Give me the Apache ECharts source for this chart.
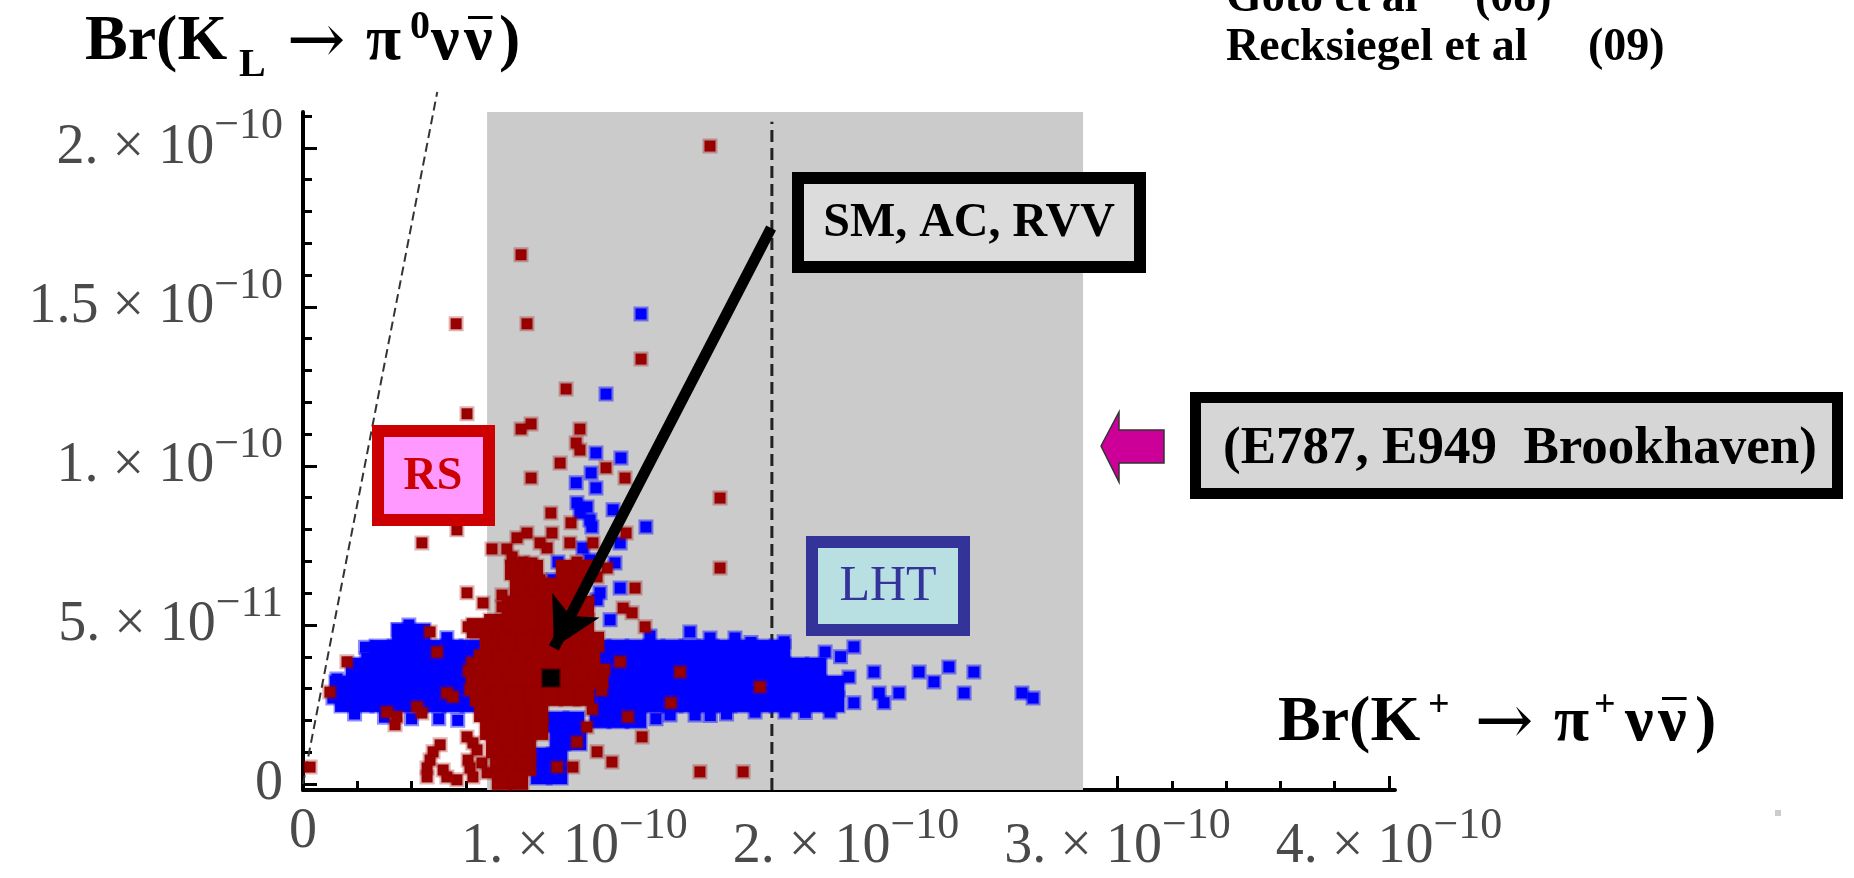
<!DOCTYPE html>
<html><head><meta charset="utf-8">
<script src="https://cdn.jsdelivr.net/npm/echarts@6/dist/echarts.min.js"></script>
<style>html,body{margin:0;padding:0;background:#fff}#c{width:1854px;height:878px}</style>
</head><body><div id="c"></div>
<script>
// Units: x values in 1e-10, y values in 1e-11
const xMajorTicks = [0, 1, 2, 3, 4];
const xMinorTicks = [0.2,0.4,0.6,0.8,1.2,1.4,1.6,1.8,2.2,2.4,2.6,2.8,3.2,3.4,3.6,3.8];
const xTickLabels = ['0', '1. × 10', '2. × 10', '3. × 10', '4. × 10'];
const xTickExp    = ['', '−10', '−10', '−10', '−10'];
const yMajorTicks = [0, 5, 10, 15, 20];
const yMinorTicks = [1,2,3,4,6,7,8,9,11,12,13,14,16,17,18,19,21];
const yTickLabels = ['0', '5. × 10', '1. × 10', '1.5 × 10', '2. × 10'];
const yTickExp    = ['', '−11', '−10', '−10', '−10'];

// shaded experimental band (E787/E949) in x
const bandX = [0.678, 2.873];
// central value line
const centralLine = [[1.727, -0.19], [1.727, 20.82]];
// Grossman-Nir bound line
const gnLine = [[0, 0], [0.4945, 21.76]];
// Standard Model point
const smPoint = [[0.913, 3.33]];
// arrow from SM label to SM point
const smArrow = [[1.724, 17.48], [0.924, 4.28]];

// LHT (blue) points
const blueDense = [
  [0.365,4.72],[0.431,4.72],
  [0.284,4.21],[0.350,4.21],[0.416,4.21],[0.483,4.21],[0.549,4.21],[0.615,4.21],
  [0.195,3.65],[0.262,3.65],[0.328,3.65],[0.394,3.65],[0.460,3.65],[0.527,3.65],[0.593,3.65],[0.659,3.65],
  [0.136,3.08],[0.203,3.08],[0.269,3.08],[0.335,3.08],[0.401,3.08],[0.468,3.08],[0.534,3.08],[0.600,3.08],[0.667,3.08],
  [0.155,2.58],[0.221,2.58],[0.287,2.58],[0.354,2.58],[0.420,2.58],[0.486,2.58],[0.552,2.58],[0.619,2.58],[0.685,2.58],
  [1.094,4.21],[1.160,4.21],[1.227,4.21],[1.293,4.21],[1.359,4.21],[1.425,4.21],[1.492,4.21],[1.558,4.21],[1.624,4.21],[1.690,4.21],[1.757,4.21],
  [1.094,3.65],[1.160,3.65],[1.227,3.65],[1.293,3.65],[1.359,3.65],[1.425,3.65],[1.492,3.65],[1.558,3.65],[1.624,3.65],[1.690,3.65],[1.757,3.65],[1.823,3.65],[1.890,3.65],
  [1.094,3.08],[1.160,3.08],[1.227,3.08],[1.293,3.08],[1.359,3.08],[1.425,3.08],[1.492,3.08],[1.558,3.08],[1.624,3.08],[1.690,3.08],[1.757,3.08],[1.823,3.08],[1.890,3.08],[1.956,3.08],
  [1.094,2.58],[1.160,2.58],[1.227,2.58],[1.293,2.58],[1.359,2.58],[1.425,2.58],[1.492,2.58],[1.558,2.58],[1.624,2.58],[1.690,2.58],[1.757,2.58],[1.823,2.58],[1.890,2.58],[1.956,2.58],
  [1.094,2.08],[1.160,2.08],[1.227,2.08],
  [0.939,1.95],[0.998,1.95],[0.947,1.38],[1.006,1.38],[0.877,0.82],[0.936,0.82],[0.877,0.31],[0.936,0.31]
];
const blueSparse = [
  [1.245,14.78],[1.116,12.26],[1.079,10.41],[1.171,10.25],[1.061,9.78],[1.006,9.47],[1.079,9.31],
  [1.009,8.84],[1.046,8.71],[1.020,8.52],[1.057,8.30],[1.064,8.08],[1.142,8.62],[1.263,8.08],
  [1.168,7.58],[1.149,6.95],[0.939,6.98],[0.921,6.42],[1.168,6.16],[1.094,6.01],[1.031,7.42],
  [1.057,7.04],[1.083,5.79],[1.020,5.47],[1.131,5.16],[1.425,4.78],[1.772,4.47],[1.923,4.15],
  [2.029,4.31],[2.011,3.36],[2.103,3.52],[2.122,2.86],[2.140,2.55],[2.195,2.86],[2.029,2.55],
  [2.269,3.52],[2.324,3.21],[2.379,3.68],[2.471,3.52],[2.435,2.86],[2.648,2.86],[2.689,2.70],
  [0.390,5.00],[0.350,4.85],[0.440,4.80],[0.530,4.60],[0.545,4.30],
  [0.110,2.70],[0.125,3.30],[0.230,4.30],[0.235,3.95],[0.300,2.10],[0.500,2.05],[0.190,2.20],
  [0.400,2.05],[0.570,2.00],[1.300,2.05],[1.500,2.15],[1.650,4.45],[1.560,2.20],[1.980,4.00],
  [1.850,2.25],[1.278,4.65],[1.499,4.59],[1.591,4.59],[1.352,2.17],[1.444,2.17],[1.665,2.26],
  [1.775,2.26],[1.941,2.26]
];
// RS (red) points
const redDense = [
  [0.781,6.73],[0.847,6.73],[0.969,6.73],[1.035,6.73],
  [0.799,6.16],[0.866,6.16],[0.932,6.16],[0.998,6.16],
  [0.770,5.60],[0.836,5.60],[0.902,5.60],[0.969,5.60],[1.035,5.60],
  [0.640,4.90],[0.704,5.03],[0.770,5.03],[0.836,5.03],[0.902,5.03],[0.969,5.03],[1.035,5.03],
  [0.689,4.47],[0.755,4.47],[0.821,4.47],[0.888,4.47],[0.954,4.47],[1.020,4.47],[1.072,4.47],
  [0.667,3.90],[0.733,3.90],[0.799,3.90],[0.866,3.90],[0.932,3.90],[0.998,3.90],[1.057,3.90],
  [0.637,3.33],[0.704,3.33],[0.770,3.33],[0.836,3.33],[0.902,3.33],[0.969,3.33],[1.035,3.33],[1.087,3.33],
  [0.652,2.77],[0.718,2.77],[0.785,2.77],[0.851,2.77],[0.917,2.77],[0.983,2.77],[1.035,2.77],
  [0.667,2.26],[0.733,2.26],[0.799,2.26],[0.866,2.26],
  [0.689,1.70],[0.755,1.70],[0.821,1.70],[0.866,1.70],
  [0.711,1.13],[0.770,1.13],[0.821,1.13],
  [0.726,0.57],[0.785,0.57],[0.821,0.57],
  [0.733,0.13],[0.792,0.13]
];
const redSparse = [
  [1.499,20.06],[0.803,16.64],[0.564,14.47],[0.825,14.47],[1.245,13.36],[0.969,12.42],[0.604,11.64],
  [0.840,11.32],[0.803,11.16],[1.020,11.16],[1.006,10.72],[1.020,10.50],[0.947,10.09],[1.116,9.94],
  [0.840,9.62],[1.186,9.62],[1.536,8.99],[0.913,8.52],[0.987,8.21],[0.567,7.99],[1.190,7.89],
  [0.825,7.89],[0.788,7.74],[0.438,7.58],[0.696,7.39],[0.751,7.39],[0.770,7.14],[0.810,6.98],
  [0.843,6.95],[0.873,7.58],[0.899,7.42],[0.917,7.89],[0.983,7.58],[1.068,7.58],[1.120,6.79],
  [1.536,6.79],[1.223,6.16],[0.604,6.01],[0.733,5.94],[0.873,6.42],[0.910,6.19],[0.958,6.10],
  [1.009,6.98],[1.046,6.73],[1.083,6.51],[0.663,5.69],[0.733,5.57],[0.884,6.26],[1.179,5.53],
  [1.212,5.38],[1.260,4.94],[0.468,4.78],[0.608,4.94],[0.641,4.78],[0.678,4.59],[0.494,4.15],
  [0.162,3.84],[0.622,3.81],[0.530,2.86],[0.552,2.74],[1.168,3.84],[1.389,3.52],[1.683,3.05],
  [1.355,2.55],[0.099,2.89],[0.309,2.26],[0.346,2.11],[0.339,1.86],[0.420,2.42],[0.438,2.23],
  [1.197,2.11],[1.249,1.48],[1.009,1.32],[1.083,1.01],[1.138,0.69],[1.046,1.79],[0.604,1.48],
  [0.626,1.29],[0.641,1.07],[0.505,1.23],[0.479,1.01],[0.468,0.75],[0.457,0.50],[0.457,0.22],
  [0.516,0.44],[0.530,0.22],[0.567,0.13],[0.608,0.75],[0.615,0.50],[0.626,0.22],[0.659,0.66],
  [0.678,0.35],[0.994,0.53],[0.936,0.53],[1.462,0.38],[1.621,0.38],[0.026,0.53],
  [1.110,3.60],[1.100,2.95],[0.610,3.55],[0.615,2.95],[1.065,2.35]
];

const FONT = 'Liberation Serif';
const LBL = '#4a4a4a';
const rich = {
  m: {fontFamily: FONT, fontSize: 56, color: LBL, lineHeight: 56},
  s: {fontFamily: FONT, fontSize: 44, color: LBL, lineHeight: 14, height: 14, verticalAlign: 'top'},
  z: {fontFamily: FONT, fontSize: 56, color: LBL, lineHeight: 26, height: 26, verticalAlign: 'top'}
};
function fmt(labels, exps, ticks) {
  return function (v) {
    const i = ticks.findIndex(t => Math.abs(t - v) < 1e-9);
    if (i < 0) return '';
    if (!exps[i]) return '{z|' + labels[i] + '}';
    return '{m|' + labels[i] + '}{s|' + exps[i] + '}';
  };
}
const X_MIN = 0, X_MAX = 4.022, Y_MIN = -0.19, Y_MAX = 21.13;
const axisCommon = {type: 'value', splitLine: {show: false}, axisPointer: {show: false}};

const chart = echarts.init(document.getElementById('c'), null, {renderer: 'canvas'});

// text layout helper
const meas = document.createElement('canvas').getContext('2d');
function fnt(size, weight, fam) { return weight + ' ' + size + 'px "' + (fam || FONT) + '"'; }
function tw(t, f) { meas.font = f; return meas.measureText(t).width; }
function run(parts, base) {
  const out = [];
  parts.forEach(p => {
    const f = fnt(p.size, p.w || 'bold', p.ff);
    const y = base + (p.dy || 0);
    const w = tw(p.t, f);
    const ymid = (p.raise != null) ? base - p.raise : y - 0.305 * p.size;
    out.push({type: 'text', x: p.x, y: ymid, z: 120,
      style: {text: p.t, font: f, fill: '#000',
        align: p.align || 'left', verticalAlign: 'middle', textAlign: p.align || 'left', textVerticalAlign: 'middle'}});
    if (p.over) {
      out.push({type: 'rect', z: 120, shape: {x: p.x + 4, y: base - 46, width: w - 4, height: 3}, style: {fill: '#000'}});
    }
  });
  return out;
}
function box(x, y, w, h, b, border, fill, text, font, color, tx, ty) {
  return [
    {type: 'rect', z: 100, shape: {x: x, y: y, width: w, height: h}, style: {fill: border}},
    {type: 'rect', z: 101, shape: {x: x + b, y: y + b, width: w - 2 * b, height: h - 2 * b}, style: {fill: fill}},
    {type: 'text', z: 102, x: tx, y: ty, style: {text: text, font: font, fill: color,
      align: 'center', verticalAlign: 'middle', textAlign: 'center', textVerticalAlign: 'middle'}}
  ];
}
const ARROW_FF = 'DejaVu Serif';
const graphics = [].concat(
  run([{t: 'Br(K', x: 85, size: 64}, {t: 'L', x: 239, size: 40, dy: 16},
       {t: '→', x: 316, align: 'center', size: 70, ff: ARROW_FF, w: 'normal', raise: 17},
       {t: 'π', x: 366, size: 64},
       {t: '0', x: 410, size: 40, dy: -22}, {t: 'ν', x: 431, size: 64}, {t: 'ν', x: 464, size: 64, over: true},
       {t: ')', x: 499, size: 64}], 62),
  run([{t: 'Br(K', x: 1278, size: 64}, {t: '+', x: 1428, size: 38, dy: -25},
       {t: '→', x: 1504, align: 'center', size: 70, ff: ARROW_FF, w: 'normal', raise: 17},
       {t: 'π', x: 1554, size: 64},
       {t: '+', x: 1594, size: 38, dy: -25}, {t: 'ν', x: 1625, size: 64}, {t: 'ν', x: 1658, size: 64, over: true},
       {t: ')', x: 1695, size: 64}], 743),
  run([{t: 'Goto et al', x: 1226, size: 46}, {t: '(08)', x: 1475, size: 46}], 13),
  run([{t: 'Recksiegel et al', x: 1226, size: 46}, {t: '(09)', x: 1588, size: 46}], 62),
  box(372, 425, 123, 101, 12, '#cc0000', '#ff99ff', 'RS', fnt(46, 'bold'), '#cc0000', 433, 477),
  box(806, 536, 164, 100, 12, '#333399', '#b8e0e3', 'LHT', fnt(50, 'normal'), '#333399', 888, 587),
  box(792, 172, 354, 101, 12, '#000000', '#dcdcdc', 'SM, AC, RVV', fnt(48, 'bold'), '#000', 969, 224),
  box(1190, 392, 653, 107, 11, '#000000', '#d6d6d6', '(E787, E949  Brookhaven)', fnt(53, 'bold'), '#000', 1520, 449),
  [{type: 'polygon', z: 100, shape: {points: [[1101, 446], [1119, 412], [1119, 430], [1164, 430], [1164, 463], [1119, 463], [1119, 482]]},
    style: {fill: '#cc0099', stroke: '#333', lineWidth: 1.5}},
   {type: 'rect', z: 100, shape: {x: 1775, y: 810, width: 6, height: 6}, style: {fill: '#cccccc'}}]
);

const scatterBase = {type: 'scatter', symbol: 'rect', silent: true, clip: false, emphasis: {disabled: true}};

chart.setOption({
  animation: false,
  backgroundColor: '#ffffff',
  grid: {left: 303, right: 459, top: 112, bottom: 88, containLabel: false, outerBoundsMode: 'none'},
  xAxis: [
    Object.assign({}, axisCommon, {min: X_MIN, max: X_MAX, position: 'bottom',
      axisLine: {onZero: false, lineStyle: {color: '#000', width: 4}},
      axisTick: {inside: true, length: 14, customValues: xMajorTicks, lineStyle: {color: '#000', width: 3}},
      minorTick: {show: false},
      axisLabel: {customValues: xMajorTicks, margin: 29, formatter: fmt(xTickLabels, xTickExp, xMajorTicks), rich: rich}}),
    Object.assign({}, axisCommon, {min: X_MIN, max: X_MAX, position: 'bottom',
      axisLine: {show: false, onZero: false},
      axisTick: {inside: true, length: 9, customValues: xMinorTicks, lineStyle: {color: '#000', width: 3}},
      minorTick: {show: false},
      axisLabel: {show: false}})
  ],
  yAxis: [
    Object.assign({}, axisCommon, {min: Y_MIN, max: Y_MAX, position: 'left',
      axisLine: {onZero: false, lineStyle: {color: '#000', width: 4}},
      axisTick: {inside: true, length: 14, customValues: yMajorTicks, lineStyle: {color: '#000', width: 3}},
      minorTick: {show: false},
      axisLabel: {customValues: yMajorTicks, margin: 20, formatter: fmt(yTickLabels, yTickExp, yMajorTicks), rich: rich}}),
    Object.assign({}, axisCommon, {min: Y_MIN, max: Y_MAX, position: 'left',
      axisLine: {show: false, onZero: false},
      axisTick: {inside: true, length: 9, customValues: yMinorTicks, lineStyle: {color: '#000', width: 3}},
      minorTick: {show: false},
      axisLabel: {show: false}})
  ],
  series: [
    {type: 'line', name: 'band', data: [], silent: true, z: 0,
      markArea: {silent: true, itemStyle: {color: '#cbcbcb'}, label: {show: false},
        data: [[{xAxis: bandX[0]}, {xAxis: bandX[1]}]]}},
    {type: 'line', name: 'GN bound', data: gnLine, clip: false, symbol: 'none', silent: true, z: 2,
      lineStyle: {color: '#333', width: 2, type: [9, 5]}},
    {type: 'line', name: 'central', data: centralLine, clip: false, symbol: 'none', silent: true, z: 2,
      lineStyle: {color: '#222', width: 3, type: [12, 6]}},
    Object.assign({}, scatterBase, {name: 'LHT dense', data: blueDense, symbolSize: 20, z: 3,
      itemStyle: {color: '#0000ff', opacity: 1, borderColor: 'rgba(0,0,255,0.45)', borderWidth: 3}}),
    Object.assign({}, scatterBase, {name: 'LHT', data: blueSparse, symbolSize: 11, z: 3,
      itemStyle: {color: '#0000ff', opacity: 1, borderColor: 'rgba(0,0,255,0.45)', borderWidth: 4}}),
    Object.assign({}, scatterBase, {name: 'RS dense', data: redDense, symbolSize: 20, z: 4,
      itemStyle: {color: '#990000', opacity: 1, borderColor: 'rgba(153,0,0,0.3)', borderWidth: 3}}),
    Object.assign({}, scatterBase, {name: 'RS', data: redSparse, symbolSize: 11, z: 4,
      itemStyle: {color: '#990000', opacity: 1, borderColor: 'rgba(153,0,0,0.3)', borderWidth: 4}}),
    Object.assign({}, scatterBase, {name: 'SM', data: smPoint, symbolSize: 17, z: 5,
      itemStyle: {color: '#000', opacity: 1, borderColor: 'rgba(0,0,0,0.3)', borderWidth: 3}}),
    {type: 'line', name: 'arrow', data: [], silent: true, z: 6,
      markLine: {silent: true, symbol: ['none', 'arrow'], symbolSize: [40, 48], animation: false,
        lineStyle: {color: '#000', width: 11, type: 'solid', opacity: 1}, label: {show: false},
        itemStyle: {color: '#000', opacity: 1},
        emphasis: {disabled: true},
        data: [[{coord: smArrow[0]}, {coord: smArrow[1]}]]}}
  ],
  graphic: {elements: graphics}
});
</script></body></html>
